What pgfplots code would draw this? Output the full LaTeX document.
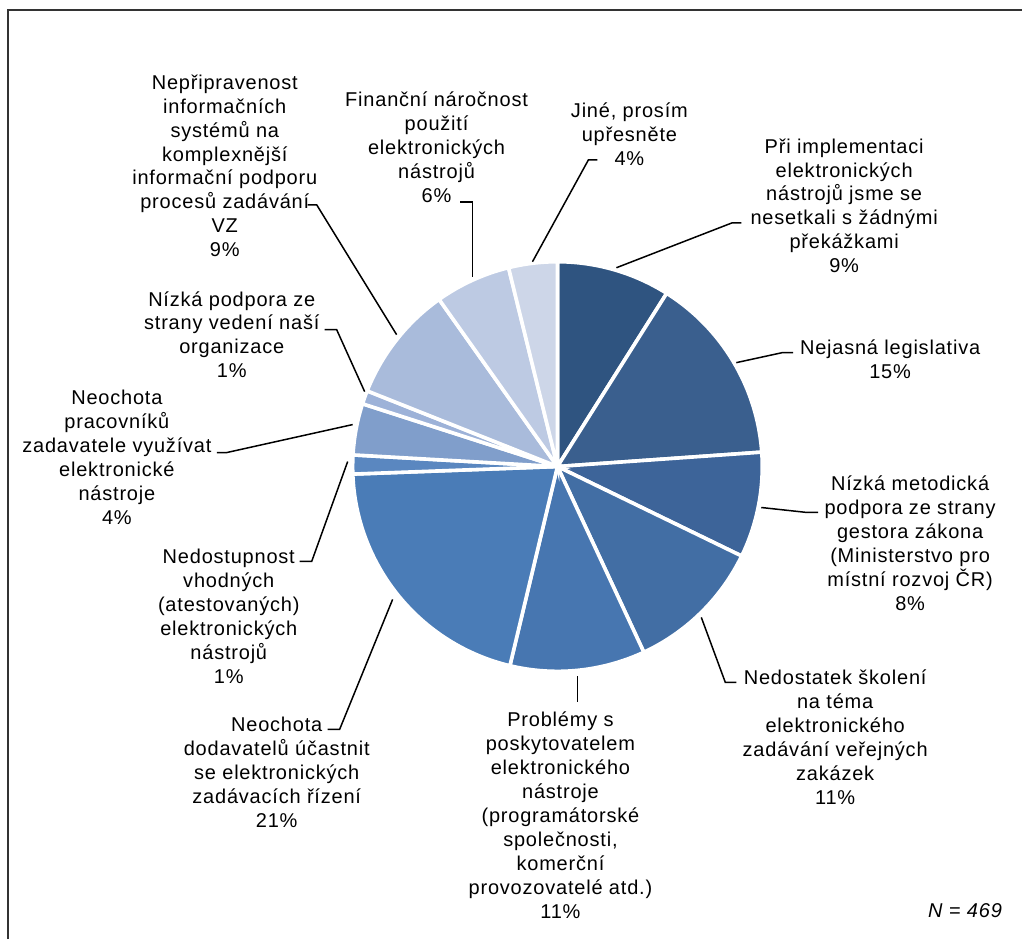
\documentclass[border=0pt]{standalone}
\usepackage{pgfplots}
\pgfplotsset{compat=1.18}
\usepackage{fontspec}
\setmainfont[LetterSpace=4]{Liberation Sans}

\definecolor{s1}{HTML}{2F5480}
\definecolor{s2}{HTML}{3A5F8E}
\definecolor{s3}{HTML}{3D6499}
\definecolor{s4}{HTML}{426EA4}
\definecolor{s5}{HTML}{4776B0}
\definecolor{s6}{HTML}{4A7CB7}
\definecolor{s7}{HTML}{5A87C0}
\definecolor{s8}{HTML}{809ECB}
\definecolor{s9}{HTML}{9DB2D8}
\definecolor{s10}{HTML}{A9BBDB}
\definecolor{s11}{HTML}{BDCAE3}
\definecolor{s12}{HTML}{CDD6E8}

% counts out of N = 469, given here as cumulative start/end
\newcommand{\slice}[3]{%
  \fill[#3, draw=white, line width=1.8pt] (axis cs:558,467)
    -- ++({90-(#1/469)*360}:102.5pt)
    arc[start angle={90-(#1/469)*360}, end angle={90-(#2/469)*360}, radius=102.5pt]
    -- cycle;}

\begin{document}
\begin{tikzpicture}
\begin{axis}[
    scale only axis,
    width=511.5pt, height=470pt,
    xmin=0, xmax=1023, ymin=0, ymax=940,
    y dir=reverse,
    hide axis,
    clip=false,
]
\path (axis cs:0,0) rectangle (axis cs:1023,940);

% frame
\draw[black!80, line width=1pt] (axis cs:8,940) -- (axis cs:8,10) -- (axis cs:1023,10);

% slices (counts)
\slice{0}{42}{s1}
\slice{42}{112}{s2}
\slice{112}{151}{s3}
\slice{151}{202}{s4}
\slice{202}{252}{s5}
\slice{252}{349}{s6}
\slice{349}{356}{s7}
\slice{356}{375}{s8}
\slice{375}{380}{s9}
\slice{380}{423}{s10}
\slice{423}{451}{s11}
\slice{451}{469}{s12}

% leader lines
\begin{scope}[black, line width=0.75pt]
\draw (axis cs:617,268) -- (axis cs:733,223) -- (axis cs:742,223);
\draw (axis cs:737,363) -- (axis cs:783,353) -- (axis cs:794,353);
\draw (axis cs:762,508) -- (axis cs:808,513) -- (axis cs:819,513);
\draw (axis cs:702,618) -- (axis cs:726,683) -- (axis cs:737,683);
\draw (axis cs:578,677) -- (axis cs:578,703);
\draw (axis cs:393,600) -- (axis cs:340,730) -- (axis cs:328,730);
\draw (axis cs:348,462) -- (axis cs:312,562) -- (axis cs:300,562);
\draw (axis cs:353,425) -- (axis cs:227,453) -- (axis cs:217,453);
\draw (axis cs:365,392) -- (axis cs:337,330) -- (axis cs:325,330);
\draw (axis cs:397,335) -- (axis cs:317,205) -- (axis cs:308,205);
\draw (axis cs:473,277) -- (axis cs:473,202) -- (axis cs:460,202);
\draw (axis cs:533,262) -- (axis cs:589,160) -- (axis cs:598,160);
\end{scope}

% labels
\begin{scope}[every node/.style={align=center, inner sep=0pt, font=\fontsize{10}{12}\selectfont}]
\node at (axis cs:845,206) {Při implementaci\\elektronických\\nástrojů jsme se\\nesetkali s žádnými\\překážkami\\9\%};
\node at (axis cs:891,360) {Nejasná legislativa\\15\%};
\node at (axis cs:911,544) {Nízká metodická\\podpora ze strany\\gestora zákona\\(Ministerstvo pro\\místní rozvoj ČR)\\8\%};
\node at (axis cs:836,738) {Nedostatek školení\\na téma\\elektronického\\zadávání veřejných\\zakázek\\11\%};
\node at (axis cs:561,816) {Problémy s\\poskytovatelem\\elektronického\\nástroje\\(programátorské\\společnosti,\\komerční\\provozovatelé atd.)\\11\%};
\node at (axis cs:277,773) {Neochota\\dodavatelů účastnit\\se elektronických\\zadávacích řízení\\21\%};
\node at (axis cs:229,617) {Nedostupnost\\vhodných\\(atestovaných)\\elektronických\\nástrojů\\1\%};
\node at (axis cs:117,458) {Neochota\\pracovníků\\zadavatele využívat\\elektronické\\nástroje\\4\%};
\node at (axis cs:232,335) {Nízká podpora ze\\strany vedení naší\\organizace\\1\%};
\node at (axis cs:225,166) {Nepřipravenost\\informačních\\systémů na\\komplexnější\\informační podporu\\procesů zadávání\\VZ\\9\%};
\node at (axis cs:437,147) {Finanční náročnost\\použití\\elektronických\\nástrojů\\6\%};
\node at (axis cs:630,134) {Jiné, prosím\\upřesněte\\4\%};
\node at (axis cs:966,912) {\itshape N = 469};
\end{scope}
\end{axis}
\end{tikzpicture}
\end{document}
